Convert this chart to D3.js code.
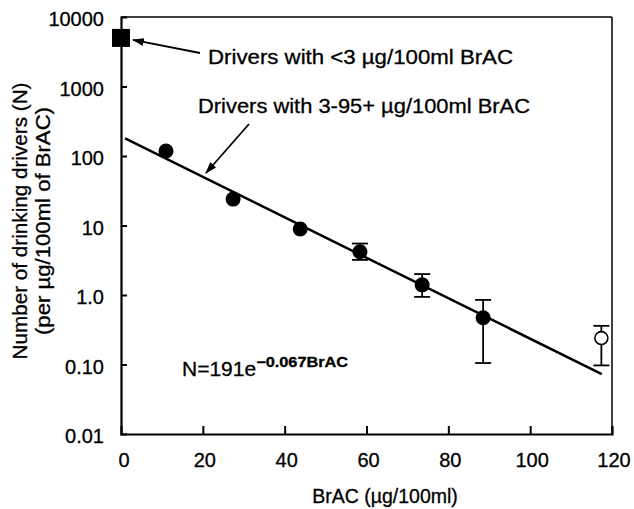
<!DOCTYPE html>
<html>
<head>
<meta charset="utf-8">
<script src="https://cdn.jsdelivr.net/npm/d3@7"></script>
<style>
  html, body { margin: 0; padding: 0; background: #fff; }
  svg { display: block; }
  text { font-family: "Liberation Sans", Arial, Helvetica, sans-serif; fill: #000; stroke: #000; stroke-width: 0.3; }
</style>
</head>
<body>
<svg id="chart" width="634" height="509"></svg>
<script>
// Drinking drivers per µg/100ml of breath alcohol concentration
const brac      = [11, 27.4, 43.8, 58.4, 73.6, 88.5];
const drivers   = [118, 24, 8.9, 4.2, 1.4, 0.47];
const errLow    = [null, null, null, 3.2, 0.94, 0.105];
const errHigh   = [null, null, null, 5.5, 2.0, 0.85];

// Open point (highest BrAC band)
const openBrac  = [117.4];
const openVal   = [0.24];
const openLow   = [0.097];
const openHigh  = [0.36];

// Sober drivers (<3 µg/100ml)
const soberBrac = [0];
const soberVal  = [5000];

// Fitted exponential N = 191 e^(-0.067 BrAC)
const fitA = 191, fitK = 0.067;
const fitRange = [1, 117.5];

const xTicks = [0, 20, 40, 60, 80, 100, 120];
const yTicks = [0.01, 0.1, 1, 10, 100, 1000, 10000];
const yTickLabels = ["0.01", "0.10", "1.0", "10", "100", "1000", "10000"];

const svg = d3.select("#chart");
const L = 121, R = 612, T = 17, B = 434;

const x = d3.scaleLinear().domain([0, 120]).range([L, R]);
const y = d3.scaleLog().domain([0.01, 10000]).range([B, T]);

// frame: top and right edges thinner
svg.append("line").attr("x1", L).attr("x2", R).attr("y1", T).attr("y2", T)
  .attr("stroke", "#000").attr("stroke-width", 1.3);
svg.append("line").attr("x1", R).attr("x2", R).attr("y1", T).attr("y2", B)
  .attr("stroke", "#000").attr("stroke-width", 1.5);

// y axis: inward ticks, labels placed separately
const yAxis = d3.axisRight(y).tickValues(yTicks).tickSize(6).tickFormat("");
const gy = svg.append("g").attr("transform", `translate(${L},0)`).call(yAxis);
gy.select(".domain").attr("stroke-width", 2.2);
gy.selectAll(".tick line").attr("stroke-width", 2)
  .attr("display", d => (d === 0.01 || d === 10000) ? "none" : null);

// x axis: inward ticks
const xAxis = d3.axisTop(x).tickValues(xTicks).tickSize(8).tickFormat("");
const gx = svg.append("g").attr("transform", `translate(0,${B})`).call(xAxis);
gx.select(".domain").attr("stroke-width", 2.2);
gx.selectAll(".tick line").attr("stroke-width", 2)
  .attr("display", d => (d === 0 || d === 120) ? "none" : null);

// tick labels
svg.append("g").selectAll("text").data(yTicks).join("text")
  .attr("x", 104).attr("y", d => y(d)).attr("dy", "0.45em")
  .attr("text-anchor", "end").attr("font-size", 20)
  .text((d, i) => yTickLabels[i]);
svg.append("g").selectAll("text").data(xTicks).join("text")
  .attr("x", d => x(d) + (d === 0 ? 3 : 2)).attr("y", 467)
  .attr("text-anchor", "middle").attr("font-size", 20)
  .text(d => d);

// axis titles
svg.append("text").attr("x", 385).attr("y", 503).attr("text-anchor", "middle")
  .attr("font-size", 19.5).text("BrAC (µg/100ml)");
const yt = svg.append("g").attr("transform", "translate(27,221) rotate(-90)");
yt.append("text").attr("text-anchor", "middle").attr("font-size", 20)
  .attr("textLength", 277).attr("lengthAdjust", "spacingAndGlyphs")
  .text("Number of drinking drivers (N)");
yt.append("text").attr("y", 23).attr("text-anchor", "middle").attr("font-size", 20)
  .attr("textLength", 228).attr("lengthAdjust", "spacingAndGlyphs")
  .text("(per µg/100ml of BrAC)");

// fitted line
svg.append("path")
  .datum(fitRange.map(v => [v, fitA * Math.exp(-fitK * v)]))
  .attr("d", d3.line().x(d => x(d[0])).y(d => y(d[1])))
  .attr("fill", "none").attr("stroke", "#000").attr("stroke-width", 2.5);

// error bars
function errorBars(xs, lows, highs) {
  const g = svg.append("g").attr("stroke", "#000").attr("stroke-width", 1.8);
  xs.forEach((v, i) => {
    if (lows[i] == null) return;
    const cx = x(v);
    g.append("line").attr("x1", cx).attr("x2", cx)
      .attr("y1", y(lows[i])).attr("y2", y(highs[i]));
    [lows[i], highs[i]].forEach(e => {
      g.append("line").attr("x1", cx - 8).attr("x2", cx + 8)
        .attr("y1", y(e)).attr("y2", y(e));
    });
  });
}
errorBars(brac, errLow, errHigh);
errorBars(openBrac, openLow, openHigh);

// filled points
svg.append("g").selectAll("circle").data(brac).join("circle")
  .attr("cx", d => x(d)).attr("cy", (d, i) => y(drivers[i]))
  .attr("r", 7.5).attr("fill", "#000");

// open point
svg.append("g").selectAll("circle").data(openBrac).join("circle")
  .attr("cx", d => x(d)).attr("cy", (d, i) => y(openVal[i]))
  .attr("r", 6.5).attr("fill", "#fff").attr("stroke", "#000").attr("stroke-width", 1.6);

// sober drivers square
svg.append("g").selectAll("rect").data(soberBrac).join("rect")
  .attr("x", d => x(d) - 9).attr("y", (d, i) => y(soberVal[i]) - 9)
  .attr("width", 18).attr("height", 18).attr("fill", "#000");

// annotations with arrows
const defs = svg.append("defs");
defs.append("marker").attr("id", "head").attr("viewBox", "0 0 12 8")
  .attr("refX", 11).attr("refY", 4).attr("markerWidth", 12).attr("markerHeight", 8)
  .attr("markerUnits", "userSpaceOnUse").attr("orient", "auto")
  .append("path").attr("d", "M0,0 L12,4 L0,8 Z").attr("fill", "#000");

svg.append("line").attr("x1", 200).attr("y1", 53).attr("x2", x(0) + 12).attr("y2", y(5000) + 2)
  .attr("stroke", "#000").attr("stroke-width", 1.8).attr("marker-end", "url(#head)");
svg.append("text").attr("x", 208).attr("y", 64).attr("font-size", 20)
  .attr("textLength", 305).attr("lengthAdjust", "spacingAndGlyphs")
  .text("Drivers with <3 µg/100ml BrAC");

svg.append("line").attr("x1", 249).attr("y1", 124).attr("x2", 206).attr("y2", 173)
  .attr("stroke", "#000").attr("stroke-width", 1.8).attr("marker-end", "url(#head)");
svg.append("text").attr("x", 198).attr("y", 113).attr("font-size", 20)
  .attr("textLength", 332).attr("lengthAdjust", "spacingAndGlyphs")
  .text("Drivers with 3-95+ µg/100ml BrAC");

// fit equation
const eq = svg.append("text").attr("x", 182).attr("y", 376).attr("font-size", 21);
eq.append("tspan").text(`N=${fitA}e`);
eq.append("tspan").attr("dy", -9).attr("font-size", 14).attr("font-weight", "bold")
  .attr("textLength", 92).attr("lengthAdjust", "spacingAndGlyphs")
  .text(`\u2212${fitK}BrAC`);
</script>
</body>
</html>
